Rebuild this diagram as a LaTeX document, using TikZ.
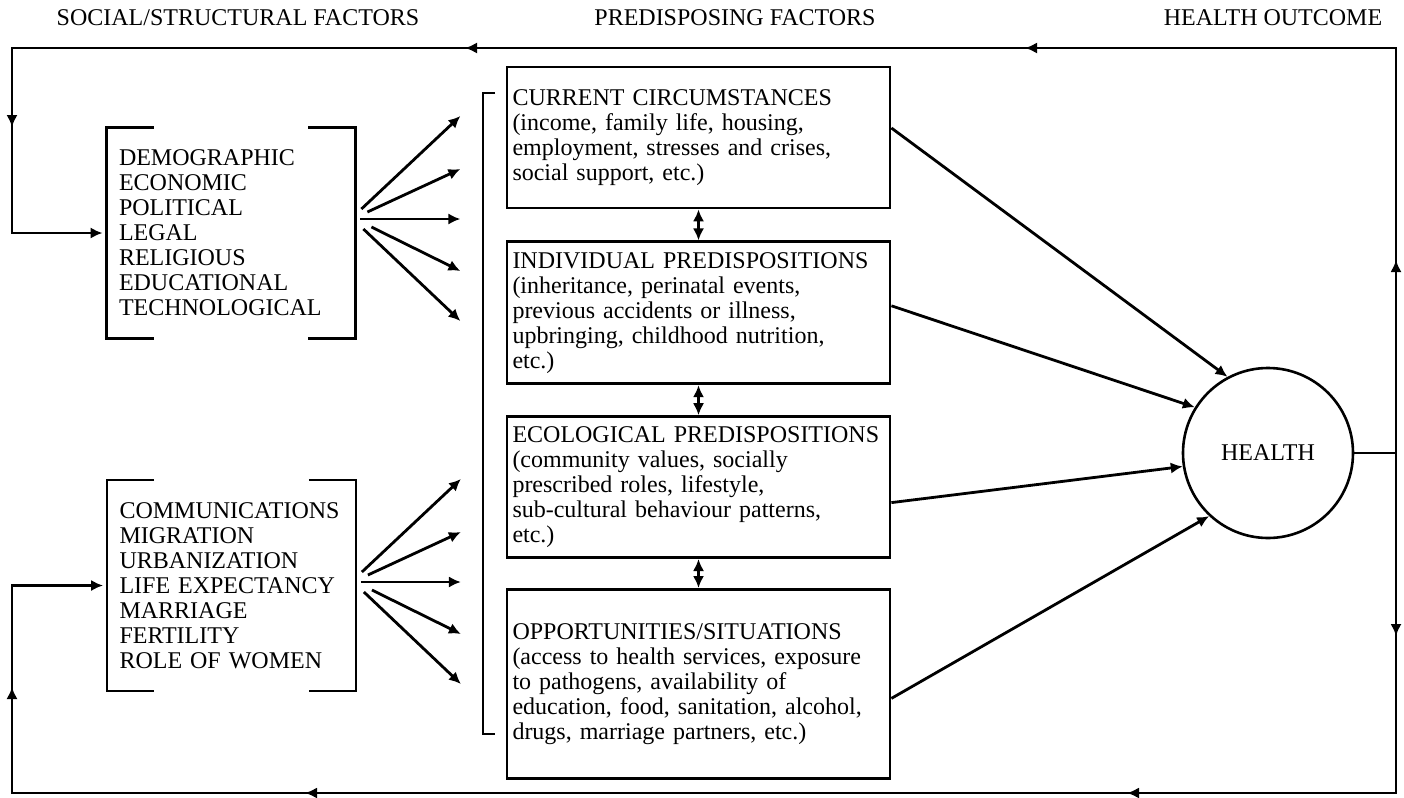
\documentclass[tikz,border=0pt]{standalone}
\usepackage{fontspec}
\setmainfont{Liberation Serif}
\usetikzlibrary{calc,arrows.meta,positioning,decorations.markings}
\newcommand{\tipA}{Latex[length=6pt,width=5.6pt]}
\tikzset{
  predbox/.style={draw,line width=1.4pt,text width=186pt,inner xsep=2.75pt,align=left},
  factlist/.style={minimum height=105pt,text width=112pt,inner xsep=6pt,align=left},
  brk/.style={line width=1.2pt},
  fanarr/.style={line width=1.4pt,-{\tipA}},
  duoarr/.style={line width=1.6pt,{\tipA}-{\tipA}},
  loopline/.style={line width=1.4pt},
  midtip/.style={postaction={decorate,decoration={markings,mark=at position #1 with {\arrow{\tipA}}}}}
}

\begin{document}
\begin{tikzpicture}[x=0.5pt,y=-0.5pt,font=\fontsize{12}{12.5}\selectfont]
\useasboundingbox (0,0) rectangle (1404,798);

% column headings
\node (hsoc) at (238,18) {SOCIAL/STRUCTURAL FACTORS};
\node (hpre) at (735,18) {PREDISPOSING FACTORS};
\node (hout) at (1273,18) {HEALTH OUTCOME};

% social / structural factors
\node[factlist] (sstruct) at (231,233) {DEMOGRAPHIC\\ECONOMIC\\POLITICAL\\LEGAL\\RELIGIOUS\\EDUCATIONAL\\TECHNOLOGICAL};
\node[factlist] (trends) at (231.5,585.5) {COMMUNICATIONS\\MIGRATION\\URBANIZATION\\LIFE EXPECTANCY\\MARRIAGE\\FERTILITY\\ROLE OF WOMEN};
\foreach \n in {sstruct,trends}{
  \draw[brk] ([xshift=23.5pt]\n.north west) -| (\n.south west) -- ++(23.5pt,0);
  \draw[brk] ([xshift=-23.5pt]\n.north east) -| (\n.south east) -- ++(-23.5pt,0);
}

% fans of arrows towards the predisposing factors
\foreach \n/\dy in {sstruct/-14,trends/-3.5}{
  \foreach \sx/\sy/\ey in {6/-10/-103, 12/-7/-50, 5/0/0, 16/8/52, 8/10/102}
    \draw[fanarr] ($(\n.east)+(\sx,\dy)+(0,\sy)$) -- ($(\n.east)+(105,\dy)+(0,\ey)$);
}

% predisposing factors
\node[predbox,minimum height=70.5pt] (cur) at (698.5,137.5) {CURRENT CIRCUMSTANCES\\(income, family life, housing,\\employment, stresses and crises,\\social support, etc.)};
\node[predbox,minimum height=71pt,below=15.5pt of cur] (ind) {INDIVIDUAL PREDISPOSITIONS\\(inheritance, perinatal events,\\previous accidents or illness,\\upbringing, childhood nutrition,\\etc.)};
\node[predbox,minimum height=70.5pt,below=15pt of ind] (eco) {ECOLOGICAL PREDISPOSITIONS\\(community values, socially\\prescribed roles, lifestyle,\\sub-cultural behaviour patterns,\\etc.)};
\node[predbox,minimum height=94.5pt,below=14.5pt of eco] (opp) {OPPORTUNITIES/SITUATIONS\\(access to health services, exposure\\to pathogens, availability of\\education, food, sanitation, alcohol,\\drugs, marriage partners, etc.)};
\draw[brk] (495,93) -| (483,734) -- (495,734);
\draw[duoarr] (cur) -- (ind);
\draw[duoarr] (ind) -- (eco);
\draw[duoarr] (eco) -- (opp);

% health outcome
\node[circle,draw,line width=1.3pt,minimum size=85pt] (health) at (1268,453) {HEALTH};
\draw[fanarr] ([yshift=4.75pt]cur.east) -- (health.118);
\draw[fanarr] ([yshift=3.5pt]ind.east) -- (health.148);
\draw[fanarr] ([yshift=-7.75pt]eco.east) -- (health.189);
\draw[fanarr] ([yshift=-7.25pt]opp.east) -- (health.227);

% feedback loops
\coordinate (rt) at (1396,453);
\coordinate (tr) at (1396,48);
\coordinate (tl) at (12,48);
\coordinate (br) at (1396,793);
\coordinate (bl) at (12,793);
\draw[line width=0.9pt] (health.east) -- (rt);
\draw[loopline,midtip=96.5pt,midtip=388pt,midtip=668pt,midtip=934pt,-{\tipA}]
  (rt) -- (tr) -- (tl) |- ([xshift=-2pt]sstruct.west);
\draw[loopline,midtip=91.5pt,midtip=304.5pt,midtip=715.5pt,midtip=915pt,-{\tipA}]
  (rt) -- (br) -- (bl) |- ([xshift=-2pt]trends.west);
\end{tikzpicture}
\end{document}
